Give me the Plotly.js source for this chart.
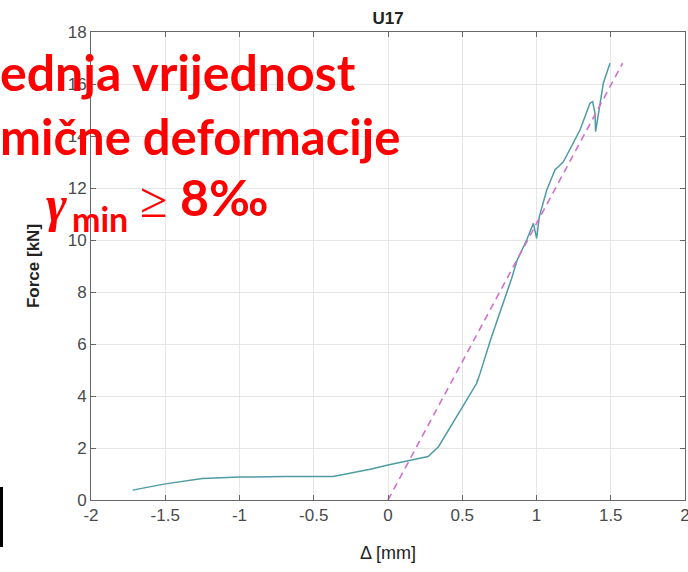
<!DOCTYPE html>
<html>
<head>
<meta charset="utf-8">
<script src="https://cdn.plot.ly/plotly-3.0.1.min.js"></script>
<style>html,body{margin:0;padding:0;background:#fff;}#chart{width:688px;height:572px;}</style>
</head>
<body>
<div id="chart"></div>
<script>
// Measured curve (displacement vs force)
var deltaMm = [-1.72, -1.5, -1.25, -1.0, -0.7, -0.37, -0.12, 0.0, 0.27, 0.34, 0.53, 0.597, 0.603, 0.598, 0.62, 0.69, 0.833, 0.87, 0.934, 0.979, 1.001, 1.019, 1.069, 1.102, 1.125, 1.147, 1.181, 1.293, 1.36, 1.378, 1.394, 1.398, 1.416, 1.45, 1.495];
var forceKn = [0.38, 0.62, 0.83, 0.88, 0.9, 0.9, 1.18, 1.35, 1.67, 2.05, 3.85, 4.49, 4.62, 4.5, 4.87, 6.15, 8.53, 9.23, 10.0, 10.64, 10.06, 10.9, 11.92, 12.37, 12.7, 12.82, 13.01, 14.23, 15.26, 15.32, 14.87, 14.17, 14.87, 16.03, 16.8];
// Fitted stiffness line
var fitX = [0.0, 1.58];
var fitY = [0.0, 16.8];
var xTicks = [-2, -1.5, -1, -0.5, 0, 0.5, 1, 1.5, 2];
var xTickText = ['-2', '-1.5', '-1', '-0.5', '0', '0.5', '1', '1.5', '2'];
var yTicks = [0, 2, 4, 6, 8, 10, 12, 14, 16, 18];

var traces = [
  {x: deltaMm, y: forceKn, mode: 'lines', type: 'scatter',
   line: {color: '#4f9ba3', width: 1.5}, showlegend: false, hoverinfo: 'skip'},
  {x: fitX, y: fitY, mode: 'lines', type: 'scatter',
   line: {color: '#d070d0', width: 1.6, dash: '7px,5px'}, showlegend: false, hoverinfo: 'skip'}
];

var axisCommon = {
  showline: true, mirror: 'ticks', linecolor: '#666', linewidth: 1,
  ticks: 'inside', ticklen: 5, tickcolor: '#666',
  showgrid: true, gridcolor: '#e6e6e6', gridwidth: 1,
  zeroline: false, ticklabeloverflow: 'allow',
  tickfont: {family: 'Liberation Sans, Arial, sans-serif', size: 17, color: '#4a4a4a'}
};

function px2x(p) { return (p - 91) / 594; }
function px2y(p) { return (500 - p) / 468; }

var redFont = {family: 'Lato, sans-serif', size: 50, color: '#ff0000'};

var layout = {
  width: 688, height: 572,
  margin: {l: 91, r: 3, t: 32, b: 72},
  paper_bgcolor: '#ffffff', plot_bgcolor: '#ffffff',
  title: {text: '<b>U17</b>', x: 0.5642, xanchor: 'center', y: 0.969, yanchor: 'middle',
          font: {family: 'Liberation Sans, Arial, sans-serif', size: 17, color: '#222'}},
  xaxis: Object.assign({}, axisCommon, {
    range: [-2, 2], tickvals: xTicks, ticktext: xTickText,
    title: {text: 'Δ [mm]', standoff: 21,
            font: {family: 'Liberation Sans, Arial, sans-serif', size: 18, color: '#222'}}
  }),
  yaxis: Object.assign({}, axisCommon, {
    range: [0, 18], tickvals: yTicks,
    title: {text: '<b>Force [kN]</b>', standoff: 23,
            font: {family: 'Liberation Sans, Arial, sans-serif', size: 17, color: '#222'}}
  }),
  annotations: [
    {xref: 'paper', yref: 'paper', x: px2x(-2), y: px2y(72), xanchor: 'left', yanchor: 'middle',
     text: '<b>ednja vrijednost</b>', showarrow: false, font: redFont},
    {xref: 'paper', yref: 'paper', x: px2x(-2), y: px2y(136), xanchor: 'left', yanchor: 'middle',
     text: '<b>mične deformacije</b>', showarrow: false, font: {family: 'Lato, sans-serif', size: 49, color: '#ff0000'}},
    {xref: 'paper', yref: 'paper', x: px2x(44), y: px2y(204), xanchor: 'left', yanchor: 'middle',
     text: '<i><b>γ</b></i>', showarrow: false,
     font: {family: 'Liberation Serif, serif', size: 50, color: '#ff0000'}},
    {xref: 'paper', yref: 'paper', x: px2x(70), y: px2y(218), xanchor: 'left', yanchor: 'middle',
     text: '<b>min</b>', showarrow: false,
     font: {family: 'Lato, sans-serif', size: 34, color: '#ff0000'}},
    {xref: 'paper', yref: 'paper', x: px2x(138), y: px2y(200), xanchor: 'left', yanchor: 'middle',
     text: '≥', showarrow: false,
     font: {family: 'Liberation Serif, serif', size: 50, color: '#ff0000'}},
    {xref: 'paper', yref: 'paper', x: px2x(178), y: px2y(197), xanchor: 'left', yanchor: 'middle',
     text: '<b>8‰</b>', showarrow: false, font: redFont}
  ],
  shapes: [
    {type: 'rect', xref: 'paper', yref: 'paper', x0: px2x(0), x1: px2x(3), y0: px2y(547), y1: px2y(487),
     fillcolor: '#000', line: {width: 0}}
  ]
};

Plotly.newPlot('chart', traces, layout, {displayModeBar: false, staticPlot: true});
</script>
</body>
</html>
